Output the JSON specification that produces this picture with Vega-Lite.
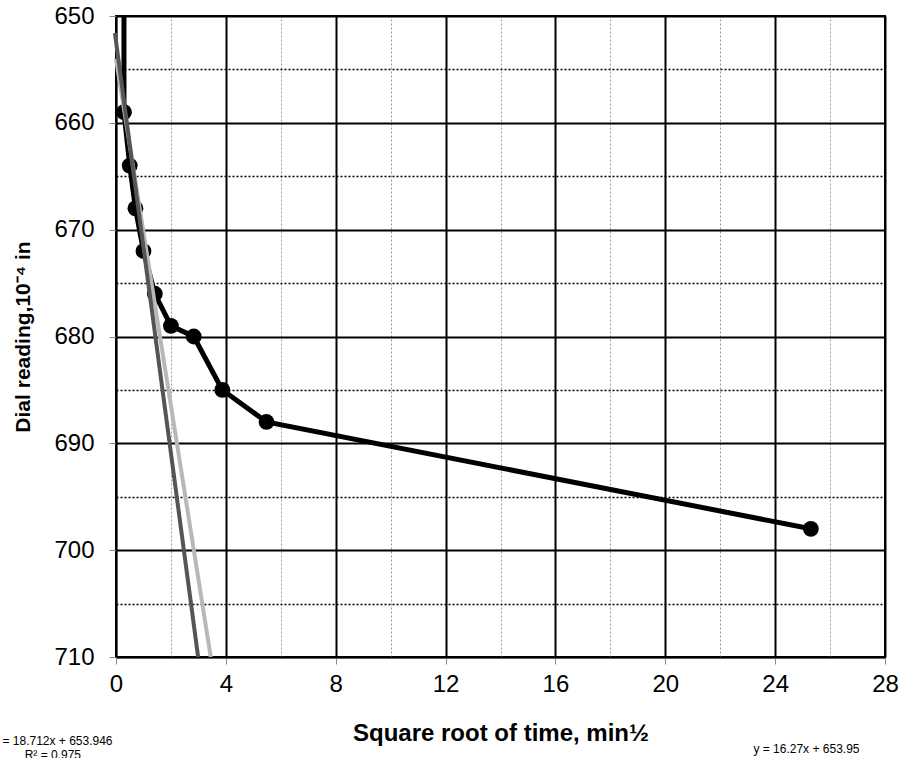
{
  "$schema": "https://vega.github.io/schema/vega-lite/v6.json",
  "width": 769,
  "height": 641,
  "autosize": {"type": "none"},
  "padding": {"left": 116, "top": 16, "right": 22, "bottom": 101},
  "background": "white",
  "config": {
    "view": {"stroke": "black", "strokeWidth": 2},
    "font": "Liberation Sans"
  },
  "datasets": {
    "obs": [
      {"x": 0.29, "y": 600},
      {"x": 0.29, "y": 659},
      {"x": 0.5, "y": 664},
      {"x": 0.707, "y": 668},
      {"x": 1.0, "y": 672},
      {"x": 1.414, "y": 676},
      {"x": 2.0, "y": 679},
      {"x": 2.83, "y": 680},
      {"x": 3.87, "y": 685},
      {"x": 5.48, "y": 688},
      {"x": 25.3, "y": 698}
    ],
    "trend": [
      {"series": "light", "x": 0, "y": 654},
      {"series": "light", "x": 3.45, "y": 710},
      {"series": "dark", "x": -0.04, "y": 651.6},
      {"series": "dark", "x": 2.99, "y": 710}
    ],
    "notes": [
      {"text": "y = 18.712x + 653.946", "x": -2.3, "y": 717.9},
      {"text": "R² = 0.975", "x": -2.3, "y": 719.2},
      {"text": "y = 16.27x + 653.95", "x": 25.14, "y": 718.6}
    ]
  },
  "encoding": {
    "x": {
      "field": "x",
      "type": "quantitative",
      "scale": {"domain": [0, 28], "nice": false, "zero": false},
      "axis": {
        "title": "Square root of time, min½",
        "titleFontSize": 24,
        "titleFontWeight": "bold",
        "titleColor": "black",
        "titlePadding": 25,
        "values": [0, 2, 4, 6, 8, 10, 12, 14, 16, 18, 20, 22, 24, 26, 28],
        "labelExpr": "datum.value % 4 === 0 ? datum.label : ''",
        "labelFontSize": 24,
        "labelColor": "black",
        "labelPadding": 8,
        "labelFlush": false,
        "domainColor": "black",
        "domainWidth": 1.5,
        "tickSize": 7,
        "tickColor": {"condition": {"test": "datum.value % 4 === 0", "value": "#888888"}, "value": "transparent"},
        "grid": true,
        "gridColor": {"condition": {"test": "datum.value % 4 === 0", "value": "black"}, "value": "#999999"},
        "gridWidth": {"condition": {"test": "datum.value % 4 === 0", "value": 2}, "value": 1},
        "gridDash": {"condition": {"test": "datum.value % 4 === 0", "value": []}, "value": [2, 2]},
        "gridOpacity": 1
      }
    },
    "y": {
      "field": "y",
      "type": "quantitative",
      "scale": {"domain": [650, 710], "nice": false, "zero": false, "reverse": true},
      "axis": {
        "title": "Dial reading,10⁻⁴ in",
        "titleFontSize": 21,
        "titleFontWeight": "bold",
        "titleColor": "black",
        "titlePadding": 20,
        "values": [650, 655, 660, 665, 670, 675, 680, 685, 690, 695, 700, 705, 710],
        "labelExpr": "datum.value % 10 === 0 ? datum.label : ''",
        "labelFontSize": 24,
        "labelColor": "black",
        "labelPadding": 15,
        "labelFlush": false,
        "domainColor": "black",
        "domainWidth": 1.5,
        "tickSize": 7,
        "tickColor": {"condition": {"test": "datum.value % 10 === 0", "value": "#888888"}, "value": "transparent"},
        "grid": true,
        "gridColor": "black",
        "gridWidth": {"condition": {"test": "datum.value % 10 === 0", "value": 2}, "value": 1.5},
        "gridDash": {"condition": {"test": "datum.value % 10 === 0", "value": []}, "value": [2, 2]},
        "gridOpacity": 1
      }
    }
  },
  "layer": [
    {
      "data": {"name": "obs"},
      "mark": {"type": "line", "color": "black", "strokeWidth": 5, "clip": true},
      "encoding": {"order": {"field": "y", "type": "quantitative"}}
    },
    {
      "data": {"name": "obs"},
      "mark": {"type": "point", "filled": true, "color": "black", "opacity": 1, "size": 250, "clip": true}
    },
    {
      "data": {"name": "trend"},
      "mark": {"type": "line", "strokeWidth": 4, "clip": false},
      "encoding": {
        "detail": {"field": "series"},
        "color": {"field": "series", "type": "nominal", "scale": {"domain": ["light", "dark"], "range": ["#b8b8b8", "#555555"]}, "legend": null}
      }
    },
    {
      "data": {"name": "notes"},
      "mark": {"type": "text", "fontSize": 12, "color": "black", "baseline": "middle", "align": "center", "clip": false},
      "encoding": {"text": {"field": "text"}}
    }
  ]
}
